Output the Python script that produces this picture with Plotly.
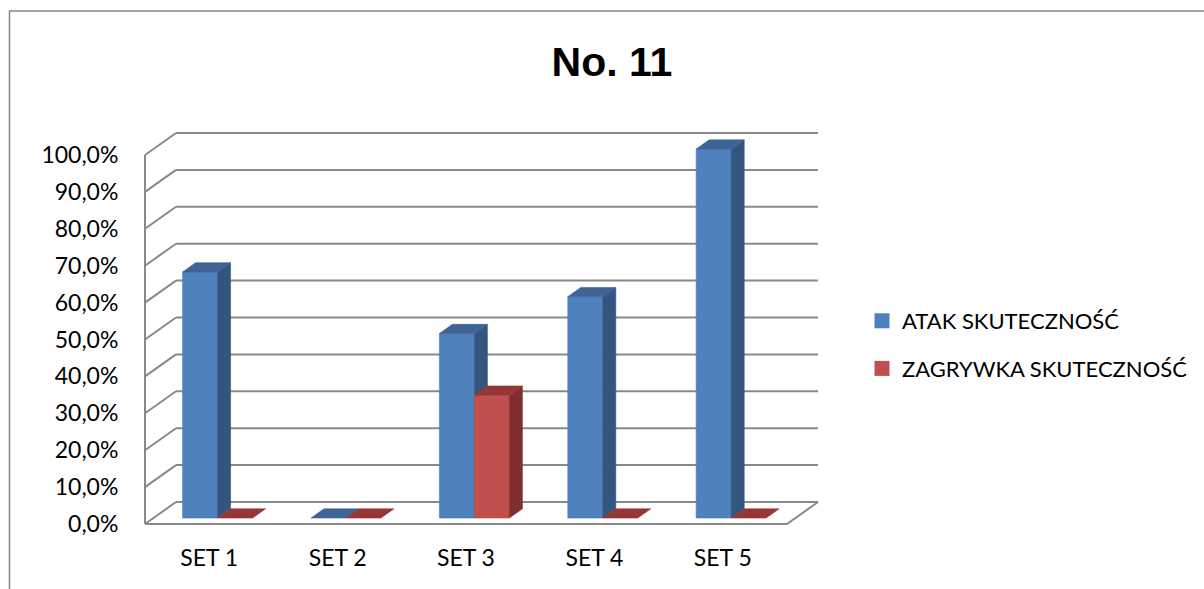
import plotly.graph_objects as go

# ---- data -------------------------------------------------------------
categories = ["SET 1", "SET 2", "SET 3", "SET 4", "SET 5"]
series_names = ["ATAK SKUTECZNOŚĆ", "ZAGRYWKA SKUTECZNOŚĆ"]
atak = [66.7, 0.0, 50.0, 60.0, 100.0]
zagrywka = [0.0, 0.0, 33.3, 0.0, 0.0]
y_ticks = [0, 10, 20, 30, 40, 50, 60, 70, 80, 90, 100]
y_tick_labels = [f"{v:.1f}".replace(".", ",") + "%" for v in y_ticks]

# ---- styling ----------------------------------------------------------
W, H = 1204, 589
FRONT_X0_PX = 145.0      # pixel of the front-left corner of the floor
CAT_PX = 128.4           # pixels per category slot
FRONT_Y0_PX = 524.0      # pixel of 0 % on the front plane
PCT_PX = 3.69            # pixels per percentage point

DEPTH_X = 31.0 / CAT_PX  # full depth of the box in x data units
DEPTH_Y = 22.0 / PCT_PX  # full depth of the box in y data units
BAR_F0, BAR_F1 = 0.27, 0.69  # front / back depth of the columns
BAR_W = 0.2726

faces = {
    0: dict(front="#4F81BD", side="#34557F", top="#3E6496"),
    1: dict(front="#C0504D", side="#7F302E", top="#953735"),
}
GRID = "#898989"
FONT = "Lato"
FONT_SIZE = 23

x_range = [-FRONT_X0_PX / CAT_PX, (W - FRONT_X0_PX) / CAT_PX]
y_range = [(FRONT_Y0_PX - H) / PCT_PX, FRONT_Y0_PX / PCT_PX]


def pt(x, y, f):
    """Project a point at depth fraction f (0 = front, 1 = back)."""
    return x + f * DEPTH_X, y + f * DEPTH_Y


def poly(points):
    xs = [p[0] for p in points] + [points[0][0]]
    ys = [p[1] for p in points] + [points[0][1]]
    return xs, ys


fig = go.Figure()

# ---- walls and floor --------------------------------------------------
n = len(categories)
gx, gy = [], []
for lv in y_ticks:
    # back wall line
    for p in (pt(0, lv, 1), pt(n, lv, 1)):
        gx.append(p[0]); gy.append(p[1])
    gx.append(None); gy.append(None)
    # side wall diagonal
    for p in (pt(0, lv, 0), pt(0, lv, 1)):
        gx.append(p[0]); gy.append(p[1])
    gx.append(None); gy.append(None)
# front vertical edge
for p in (pt(0, y_ticks[0], 0), pt(0, y_ticks[-1], 0)):
    gx.append(p[0]); gy.append(p[1])
gx.append(None); gy.append(None)
# floor front edge and right edge
for p in (pt(0, 0, 0), pt(n, 0, 0), pt(n, 0, 1)):
    gx.append(p[0]); gy.append(p[1])

fig.add_trace(go.Scatter(x=gx, y=gy, mode="lines",
                         line=dict(color=GRID, width=2),
                         hoverinfo="skip", showlegend=False))

# ---- 3D columns -------------------------------------------------------
values = [atak, zagrywka]


def add_face(points, color):
    xs, ys = poly(points)
    fig.add_trace(go.Scatter(x=xs, y=ys, mode="lines", fill="toself",
                             fillcolor=color, line=dict(color=color, width=0.6),
                             hoverinfo="skip", showlegend=False))


for i in range(n):
    for s in range(len(values)):
        v = values[s][i]
        c = faces[s]
        xl = i + 0.5 - BAR_W + s * BAR_W
        xr = xl + BAR_W
        if v > 0:
            add_face([pt(xl, 0, BAR_F0), pt(xr, 0, BAR_F0),
                      pt(xr, v, BAR_F0), pt(xl, v, BAR_F0)], c["front"])
            add_face([pt(xr, 0, BAR_F0), pt(xr, 0, BAR_F1),
                      pt(xr, v, BAR_F1), pt(xr, v, BAR_F0)], c["side"])
        add_face([pt(xl, v, BAR_F0), pt(xr, v, BAR_F0),
                  pt(xr, v, BAR_F1), pt(xl, v, BAR_F1)], c["top"])

# ---- legend entries ---------------------------------------------------
for s, name in enumerate(series_names):
    fig.add_trace(go.Scatter(x=[None], y=[None], mode="markers", name=name,
                             legendgroup=name,
                             marker=dict(symbol="square", size=15,
                                         color=faces[s]["front"])))

fig.update_layout(
    width=W, height=H,
    margin=dict(l=0, r=0, t=0, b=0),
    paper_bgcolor="white", plot_bgcolor="white",
    font=dict(family=FONT, size=FONT_SIZE, color="black"),
    title=dict(text="<b>No. 11</b>", x=612 / W, xanchor="center",
               y=1 - 62 / H, yanchor="middle",
               font=dict(family="Liberation Sans", size=41, color="black")),
    xaxis=dict(range=x_range, showgrid=False, zeroline=False, showline=False,
               anchor="free", position=(H - FRONT_Y0_PX) / H,
               tickmode="array", tickvals=[i + 0.5 for i in range(n)],
               ticktext=categories, ticks="outside", ticklen=13,
               tickcolor="rgba(0,0,0,0)",
               tickfont=dict(family=FONT, size=FONT_SIZE),
               fixedrange=True),
    yaxis=dict(range=y_range, showgrid=False, zeroline=False, showline=False,
               anchor="free", position=FRONT_X0_PX / W,
               tickmode="array", tickvals=y_ticks, ticktext=y_tick_labels,
               ticks="outside", ticklen=22, tickcolor="rgba(0,0,0,0)",
               tickfont=dict(family=FONT, size=FONT_SIZE),
               fixedrange=True),
    legend=dict(x=862 / W, xanchor="left", y=1 - 345 / H, yanchor="middle",
                traceorder="grouped", tracegroupgap=16,
                font=dict(family=FONT, size=FONT_SIZE - 1),
                bgcolor="rgba(0,0,0,0)"),
    shapes=[dict(type="path", xref="paper", yref="paper",
                 path=f"M {9.5 / W},-0.1 L {9.5 / W},{1 - 11 / H} L 1.1,{1 - 11 / H}",
                 line=dict(color="#868686", width=1.5))],
)

fig.write_html("out.html")
